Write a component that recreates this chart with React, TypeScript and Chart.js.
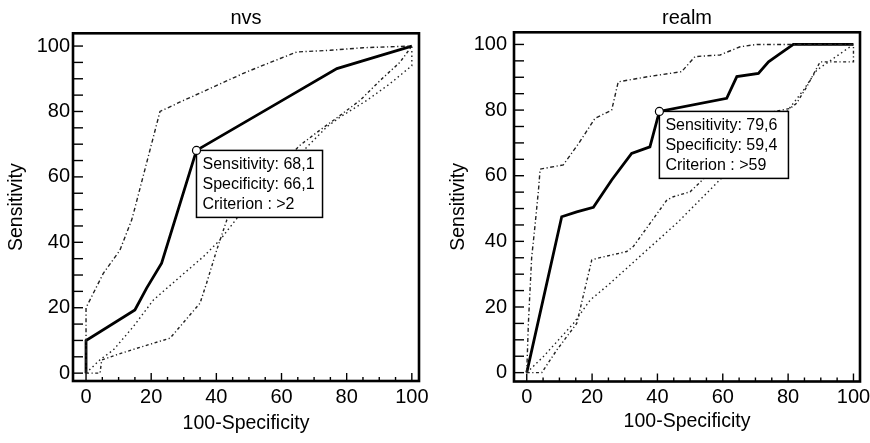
import React, { useEffect, useRef } from "react";
import { Chart, registerables } from "chart.js";

Chart.register(...registerables);

// ---------- data: nvs ----------
const nvsRocX = [0, 0, 15, 18.6, 23.2, 33.9, 59.6, 77, 90, 100];
const nvsRocY = [0, 10, 19.3, 26, 33.6, 68.1, 83, 93.1, 97, 100];
const nvsUpperX = [0, 0, 5.3, 10.4, 14, 15, 22.7, 28.9, 39.1, 49.3, 59.6, 64.7, 74.9, 85.1, 100];
const nvsUpperY = [0, 20, 30.5, 37.6, 46.8, 50.5, 80, 82.9, 87.5, 92.1, 96.2, 98.2, 98.7, 99.5, 100];
const nvsLowerX = [0, 4.3, 4.8, 9, 15.6, 25.8, 35, 37, 40.1, 43.2, 65.7, 71.8, 78, 84.1, 90.3, 96.4, 100];
const nvsLowerY = [0, 0, 4, 5.5, 7.6, 10.7, 21.4, 27.5, 37.6, 46.8, 69.7, 74.3, 78.8, 83.4, 89.5, 95.1, 100];
const nvsMidX = [0, 4.3, 8.4, 14.5, 20.7, 28.9, 36, 41.1, 46.3, 73.9, 78, 86.2, 93.3, 100, 100];
const nvsMidY = [0, 4.1, 7.1, 14.2, 22.4, 29.5, 35.6, 40.7, 47.3, 75.3, 78.3, 83.4, 88.5, 94, 100];
const nvsCutX = 33.9;
const nvsCutY = 68.1;
const nvsBoxText = ["Sensitivity: 68,1", "Specificity: 66,1", "Criterion : >2"];

// ---------- data: realm ----------
const realmRocX = [0, 10.7, 15.3, 20.4, 26, 32.1, 37.7, 40.6, 61.2, 64.3, 70.9, 74, 77, 81.6, 100];
const realmRocY = [0, 47.5, 49, 50.4, 58.7, 66.8, 68.8, 79.6, 83.6, 90.2, 91.2, 94.7, 96.8, 100, 100];
const realmUpperX = [0, 0.5, 1, 1.5, 2.5, 3.6, 4.1, 11.2, 16, 20.9, 26, 28, 37.2, 47.4, 51.5, 59.2, 65.3, 70.4, 100];
const realmUpperY = [0, 15, 25, 35, 44.5, 55.7, 62, 63.3, 70, 77.5, 80, 88.6, 90.2, 91.7, 96.3, 96.8, 99.3, 100, 100];
const realmLowerX = [0, 4.6, 9.2, 15.3, 19.9, 21.4, 30.6, 32.6, 42.9, 44.9, 50, 75.5, 80.6, 82.6, 85.7, 89.8, 100, 100];
const realmLowerY = [0, 0, 6.9, 15, 34.3, 34.8, 36.9, 38.4, 52.6, 53.6, 55.1, 79.5, 80.5, 82.1, 87.1, 94.7, 94.7, 100];
const realmMidX = [0, 5.1, 14.3, 19.4, 25.5, 35.7, 45.9, 56.1, 80, 84.7, 88.8, 100];
const realmMidY = [0, 4.9, 15, 22.1, 27.2, 36.4, 45.5, 55.7, 80, 86.1, 92.2, 100];
const realmCutX = 40.6;
const realmCutY = 79.6;
const realmBoxText = ["Sensitivity: 79,6", "Specificity: 59,4", "Criterion : >59"];

// ---------- axis ticks ----------
const labelTicks = [0, 20, 40, 60, 80, 100];
const minorTicks = [0, 5, 10, 15, 20, 25, 30, 35, 40, 45, 50, 55, 60, 65, 70, 75, 80, 85, 90, 95, 100];
const xTitle = "100-Specificity";
const yTitle = "Sensitivity";

const FONT = "'Liberation Sans', Arial, Helvetica, sans-serif";

const zip = (xs: number[], ys: number[]) => xs.map((x, i) => ({ x, y: ys[i] }));

type Cfg = {
  title: string;
  roc: [number[], number[]];
  upper: [number[], number[]];
  lower: [number[], number[]];
  mid: [number[], number[]];
  cut: [number, number];
  box: string[];
  xMin: number; xMax: number; yMin: number; yMax: number;
  yAxisW: number; xAxisH: number; padRight: number;
  titlePadTop: number; titlePadBottom: number;
  yLabelPad: number; yTitlePad: number; xLabelPad: number; xTitlePad: number;
  boxExtra: number;
};

function makeChart(canvas: HTMLCanvasElement, c: Cfg) {
  const decor = {
    id: "decor",
    beforeDatasetsDraw(chart: any) {
      const { ctx, chartArea: a, scales } = chart;
      const xs = scales.x, ys = scales.y;
      ctx.save();
      ctx.strokeStyle = "#000";
      ctx.lineWidth = 1.4;
      for (const v of minorTicks) {
        const py = ys.getPixelForValue(v);
        ctx.beginPath();
        ctx.moveTo(a.left, py);
        ctx.lineTo(a.left + 10, py);
        ctx.stroke();
        const px = xs.getPixelForValue(v);
        const len = labelTicks.includes(v) ? 8 : 4;
        ctx.beginPath();
        ctx.moveTo(px, a.bottom);
        ctx.lineTo(px, a.bottom - len);
        ctx.stroke();
      }
      ctx.restore();
    },
    afterDatasetsDraw(chart: any) {
      const { ctx, chartArea: a, scales } = chart;
      const xs = scales.x, ys = scales.y;
      ctx.save();
      ctx.strokeStyle = "#000";
      ctx.lineWidth = 2.6;
      ctx.strokeRect(a.left, a.top, a.right - a.left, a.bottom - a.top);
      const px = xs.getPixelForValue(c.cut[0]);
      const py = ys.getPixelForValue(c.cut[1]);
      ctx.font = `16px ${FONT}`;
      const tw = Math.max(...c.box.map((t) => ctx.measureText(t).width));
      const bw = tw + c.boxExtra;
      const bh = 67;
      ctx.fillStyle = "#fff";
      ctx.fillRect(px, py, bw, bh);
      ctx.lineWidth = 1.5;
      ctx.strokeRect(px, py, bw, bh);
      ctx.fillStyle = "#000";
      ctx.textBaseline = "middle";
      ctx.textAlign = "left";
      c.box.forEach((t, i) => ctx.fillText(t, px + 6, py + 14 + i * 20));
      ctx.beginPath();
      ctx.arc(px, py, 4, 0, Math.PI * 2);
      ctx.fillStyle = "#fff";
      ctx.fill();
      ctx.lineWidth = 1.2;
      ctx.strokeStyle = "#000";
      ctx.stroke();
      ctx.restore();
    },
  };

  const thin = (dash: number[]) => ({
    borderColor: "#222",
    borderWidth: 1.4,
    borderDash: dash,
    pointRadius: 0,
    showLine: true,
    fill: false,
    tension: 0,
  });

  const font = { family: FONT, size: 19.5 };
  const tickFont = { family: FONT, size: 20 };

  return new Chart(canvas, {
    type: "scatter",
    data: {
      datasets: [
        { data: zip(c.mid[0], c.mid[1]), ...thin([1.5, 3]) },
        { data: zip(c.lower[0], c.lower[1]), ...thin([3, 2.5, 1.2, 2.5]) },
        { data: zip(c.upper[0], c.upper[1]), ...thin([4, 2.5, 1.2, 2.5]) },
        {
          data: zip(c.roc[0], c.roc[1]),
          borderColor: "#000",
          borderWidth: 2.8,
          pointRadius: 0,
          showLine: true,
          fill: false,
          tension: 0,
        },
      ],
    } as any,
    options: {
      responsive: false,
      animation: false,
      layout: { padding: { left: 0, right: c.padRight, top: 0, bottom: 0 } },
      plugins: {
        legend: { display: false },
        tooltip: { enabled: false },
        title: {
          display: true,
          text: c.title,
          color: "#000",
          font: { family: FONT, size: 20, weight: "normal" },
          padding: { top: c.titlePadTop, bottom: c.titlePadBottom },
          fullSize: false,
        },
      },
      scales: {
        x: {
          type: "linear",
          min: c.xMin,
          max: c.xMax,
          afterBuildTicks: (s: any) => {
            s.ticks = labelTicks.map((v) => ({ value: v }));
          },
          afterFit: (s: any) => {
            s.height = c.xAxisH;
            s.paddingLeft = 0;
            s.paddingRight = 0;
          },
          grid: { display: false, drawTicks: false },
          border: { display: false },
          ticks: {
            color: "#000",
            font: tickFont,
            padding: c.xLabelPad,
            maxRotation: 0,
            autoSkip: false,
            callback: (v: any) => String(v),
          },
          title: {
            display: true,
            text: xTitle,
            color: "#000",
            font,
            padding: { top: 0, bottom: c.xTitlePad },
          },
        },
        y: {
          type: "linear",
          min: c.yMin,
          max: c.yMax,
          afterBuildTicks: (s: any) => {
            s.ticks = labelTicks.map((v) => ({ value: v }));
          },
          afterFit: (s: any) => {
            s.width = c.yAxisW;
            s.paddingTop = 0;
            s.paddingBottom = 0;
          },
          grid: { display: false, drawTicks: false },
          border: { display: false },
          ticks: {
            color: "#000",
            font: tickFont,
            padding: c.yLabelPad,
            autoSkip: false,
            callback: (v: any) => String(v),
          },
          title: {
            display: true,
            text: yTitle,
            color: "#000",
            font,
            padding: { top: c.yTitlePad, bottom: 0 },
          },
        },
      },
    } as any,
    plugins: [decor],
  });
}

const nvsCfg: Cfg = {
  title: "nvs",
  roc: [nvsRocX, nvsRocY],
  upper: [nvsUpperX, nvsUpperY],
  lower: [nvsLowerX, nvsLowerY],
  mid: [nvsMidX, nvsMidY],
  cut: [nvsCutX, nvsCutY],
  box: nvsBoxText,
  xMin: -4, xMax: 102.2, yMin: -2.4, yMax: 103.9,
  yAxisW: 73, xAxisH: 62, padRight: 16,
  titlePadTop: 6.3, titlePadBottom: 3,
  yLabelPad: 3, yTitlePad: 5, xLabelPad: 4, xTitlePad: 8,
  boxExtra: 14,
};

const realmCfg: Cfg = {
  title: "realm",
  roc: [realmRocX, realmRocY],
  upper: [realmUpperX, realmUpperY],
  lower: [realmLowerX, realmLowerY],
  mid: [realmMidX, realmMidY],
  cut: [realmCutX, realmCutY],
  box: realmBoxText,
  xMin: -3.9, xMax: 102, yMin: -2.7, yMax: 103.7,
  yAxisW: 79, xAxisH: 61.5, padRight: 10,
  titlePadTop: 6.3, titlePadBottom: 2,
  yLabelPad: 7, yTitlePad: 11.5, xLabelPad: 3.5, xTitlePad: 9.5,
  boxExtra: 17,
};

function Panel({ cfg, left }: { cfg: Cfg; left: number }) {
  const ref = useRef<HTMLCanvasElement | null>(null);
  useEffect(() => {
    if (!ref.current) return;
    const ch = makeChart(ref.current, cfg);
    return () => ch.destroy();
  }, [cfg]);
  return (
    <canvas
      ref={ref}
      width={435}
      height={443}
      style={{ position: "absolute", left, top: 0, width: 435, height: 443 }}
    />
  );
}

export default function App() {
  return (
    <div style={{ position: "absolute", left: 0, top: 0, width: 870, height: 443, background: "#fff" }}>
      <Panel cfg={nvsCfg} left={0} />
      <Panel cfg={realmCfg} left={435} />
    </div>
  );
}
